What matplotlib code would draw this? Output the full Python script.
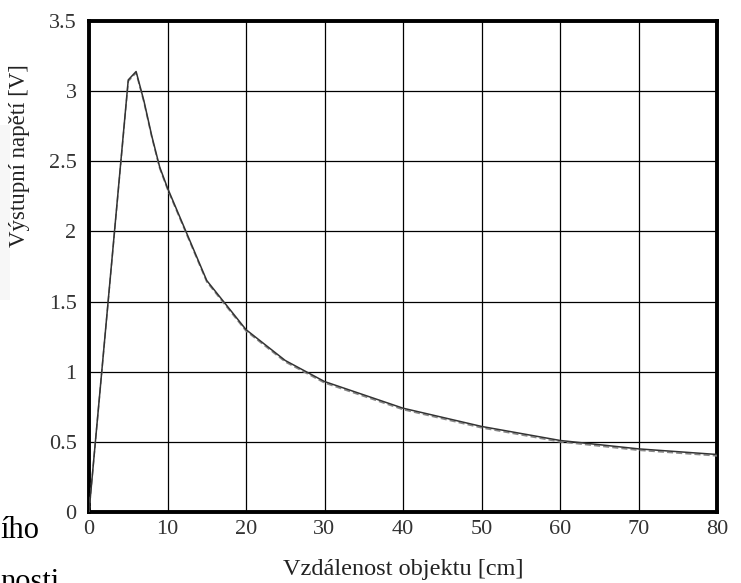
import matplotlib
matplotlib.use("Agg")
import matplotlib.pyplot as plt
from matplotlib.patches import Rectangle

# Data
distance_cm = [0, 5, 6, 7, 8, 9, 10, 15, 20, 25, 30, 40, 50, 60, 70, 80]
voltage_solid = [0.0, 3.08, 3.14, 2.93, 2.68, 2.46, 2.31, 1.65, 1.30, 1.08, 0.93, 0.74, 0.61, 0.51, 0.45, 0.41]
voltage_dashed = [0.0, 3.07, 3.13, 2.92, 2.67, 2.45, 2.30, 1.64, 1.29, 1.07, 0.92, 0.73, 0.60, 0.50, 0.44, 0.40]
x_ticks = [0, 10, 20, 30, 40, 50, 60, 70, 80]
y_ticks = [0, 0.5, 1, 1.5, 2, 2.5, 3, 3.5]
y_tick_labels = ["0", "0.5", "1", "1.5", "2", "2.5", "3", "3.5"]
x_label = "Vzdálenost objektu [cm]"
y_label = "Výstupní napětí [V]"

plt.rcParams['font.family'] = ['Liberation Serif', 'DejaVu Serif']

fig = plt.figure(figsize=(7.41, 5.83), dpi=100)
W, H = 741, 583
ax = fig.add_axes([89 / W, (H - 512) / H, (717 - 89) / W, (512 - 21) / H])

ax.plot(distance_cm, voltage_dashed, color="#888888", lw=1.1, ls=(0, (4, 2)), zorder=3)
ax.plot(distance_cm, voltage_solid, color="#333333", lw=1.1, zorder=4)

ax.set_xlim(0, 80)
ax.set_ylim(0, 3.5)
ax.set_xticks(x_ticks)
ax.set_yticks(y_ticks)
ax.set_yticklabels(y_tick_labels)
ax.grid(True, color="black", lw=0.9)
ax.set_axisbelow(True)
ax.tick_params(length=0, labelsize=16, colors="#333333")
ax.tick_params(axis="y", pad=9)
ax.tick_params(axis="x", pad=6)
for s in ax.spines.values():
    s.set_linewidth(2.8)
    s.set_color("black")

fig.text(403 / W, 1 - 570 / H, x_label, ha="center", va="center", fontsize=17.5, color="#222222")
fig.text(20 / W, 1 - 156 / H, y_label, ha="center", va="center", rotation=90, fontsize=16.5, color="#222222")

# document fragments visible at the left edge of the reference
fig.text(0.0, 1 - 538 / H, "ího", ha="left", va="baseline", fontsize=22, color="black")
fig.text(0.0, 1 - 590 / H, "nosti", ha="left", va="baseline", fontsize=22, color="black")
fig.patches.append(Rectangle((0, 1 - 300 / H), 10 / W, 175 / H, transform=fig.transFigure,
                             facecolor="#f7f7f7", edgecolor="none", zorder=0))

fig.savefig("out.png", dpi=100)
